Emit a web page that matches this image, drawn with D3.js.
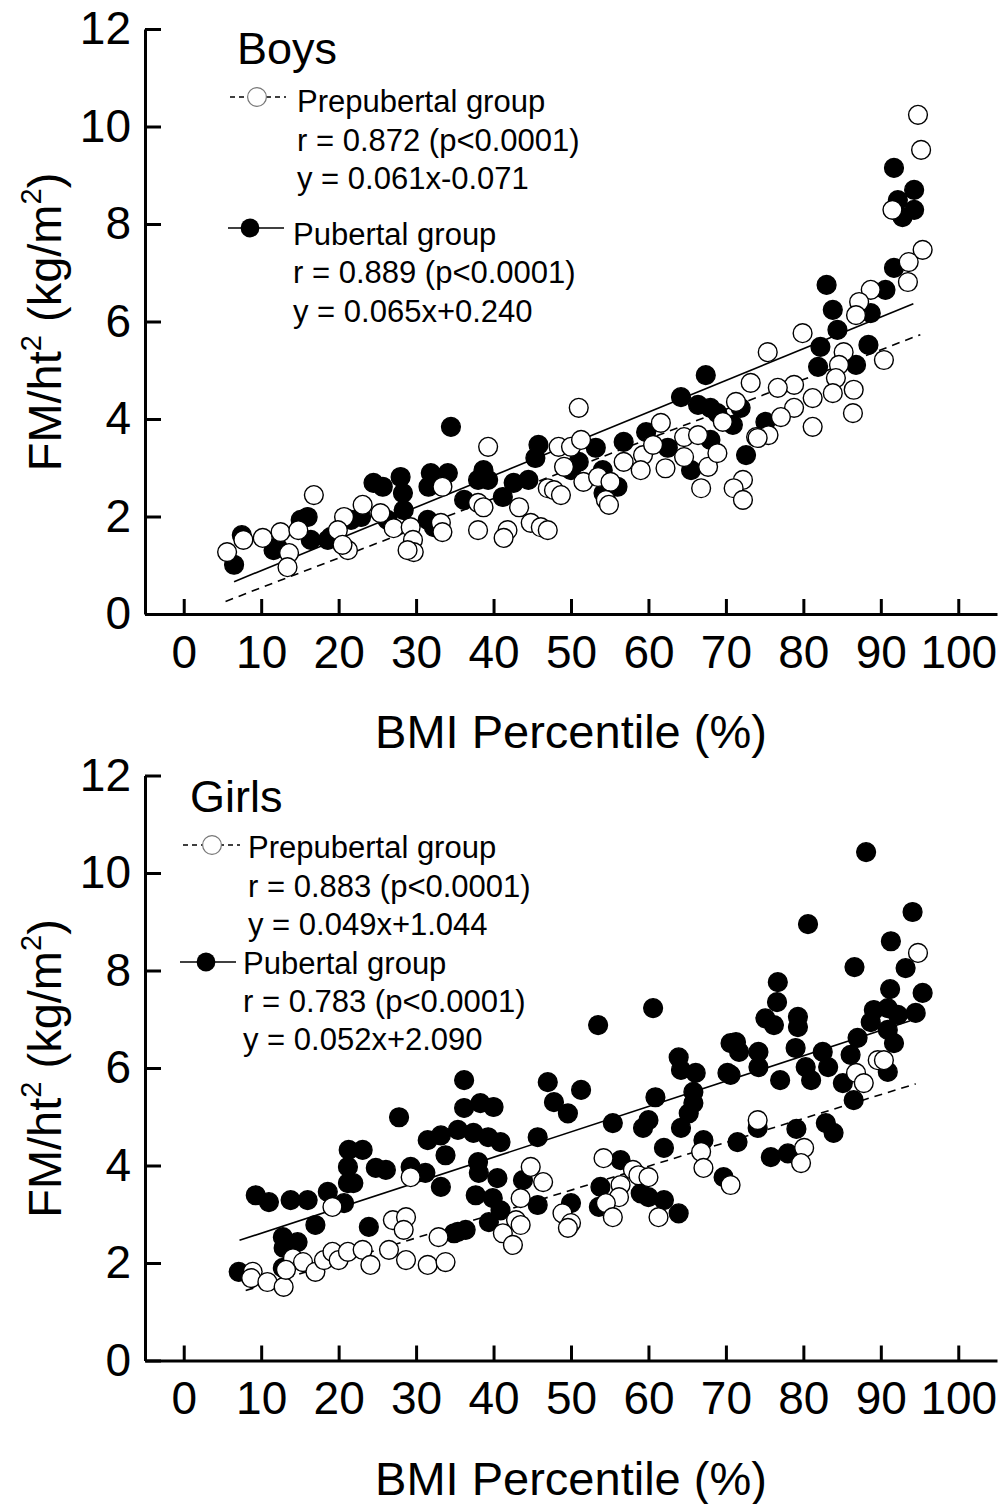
<!DOCTYPE html>
<html>
<head>
<meta charset="UTF-8">
<style>
  body { margin: 0; background: #fff; }
  svg text { font-family: "Liberation Sans", Arial, sans-serif; fill: #000; }
  .axis path, .axis line { stroke: #000; stroke-width: 3px; }
  .axis text { font-size: 46px; font-family: "Liberation Sans", Arial, sans-serif; }
</style>
</head>
<body>
<svg id="chart" width="1000" height="1504"></svg>
<script src="https://d3js.org/d3.v7.min.js"></script>
<script>

// ---- data ----
let xTicks = [0, 10, 20, 30, 40, 50, 60, 70, 80, 90, 100];
let yTicks = [0, 2, 4, 6, 8, 10, 12];

// Boys, prepubertal (open circles)
let boysPreX = [5.6,7.7,10.2,12.5,14.8,13.6,13.4,16.8,20.7,19.9,21.2,20.5,23.1,25.4,27.1,29.3,29.6,29.7,28.9,33.4,33.2,33.4,38.0,38.0,38.7,39.3,
  41.8,41.3,43.3,44.8,46.1,47.0,47.0,47.8,48.7,48.4,50.0,51.3,49.1,51.6,53.5,55.1,54.5,54.9,56.8,59.3,59.0,60.6,61.6,62.2,64.6,64.6,66.4,66.8,67.7,68.9,69.6,71.3,73.2,72.2,71.0,72.2,73.9,51.0,
  94.8,95.2,91.5,95.4,93.6,93.5,88.7,87.2,86.8,79.9,75.4,85.2,84.6,90.4,84.2,83.8,86.5,86.4,81.2,81.2,78.8,76.7,78.8,77.1,75.5,74.1];
let boysPreY = [1.27,1.52,1.56,1.68,1.72,1.25,0.96,2.44,1.99,1.72,1.31,1.42,2.24,2.07,1.76,1.78,1.52,1.27,1.31,2.61,1.87,1.68,1.72,2.28,2.19,3.43,
  1.72,1.56,2.19,1.87,1.78,1.72,2.58,2.54,2.44,3.43,3.43,3.57,3.02,2.71,2.81,2.71,2.34,2.24,3.12,3.26,2.95,3.47,3.92,2.99,3.63,3.22,3.67,2.58,3.02,3.30,3.94,4.35,4.74,2.75,2.58,2.34,3.63,4.23,
  10.24,9.52,8.29,7.47,7.22,6.81,6.65,6.40,6.13,5.76,5.37,5.37,5.11,5.21,4.84,4.53,4.60,4.12,4.43,3.84,4.70,4.64,4.23,4.04,3.67,3.61];

// Boys, pubertal (filled circles)
let boysPubX = [6.5,7.5,15.1,16.0,12.1,16.4,18.6,11.6,19.0,21.6,22.9,24.5,25.7,26.3,28.0,28.3,28.4,31.9,34.1,31.6,31.5,32.3,34.5,36.2,38.7,39.3,38.0,
  41.2,42.6,44.5,45.8,45.4,51.0,50.0,53.2,54.1,56.0,54.2,56.8,59.7,62.5,64.2,67.4,66.4,68.0,68.9,68.0,70.9,65.5,72.6,71.9,
  91.7,94.3,92.2,94.3,92.8,91.7,90.6,83.0,83.8,88.7,84.4,82.2,81.9,86.8,88.4,75.1];
let boysPubY = [1.01,1.62,1.93,1.99,1.37,1.52,1.52,1.31,1.58,1.93,1.99,2.69,2.61,1.93,2.81,2.48,2.13,2.89,2.89,2.61,1.93,1.78,3.84,2.34,2.95,2.75,2.75,
  2.40,2.69,2.75,3.47,3.20,3.12,2.95,3.41,2.95,2.61,2.48,3.53,3.73,3.41,4.45,4.90,4.29,4.23,4.12,3.57,3.88,2.95,3.26,4.23,
  9.15,8.70,8.49,8.29,8.14,7.10,6.65,6.75,6.24,6.17,5.83,5.48,5.07,5.11,5.52,3.94];

// Girls, prepubertal (open circles)
let girlsPreX = [8.9,8.7,10.8,12.9,14.1,15.4,13.2,17.0,18.1,19.2,20.0,21.2,23.1,24.1,26.5,28.7,31.5,33.8,32.9,27.0,28.7,28.4,29.3,19.2,
  44.8,46.4,43.5,42.9,43.5,41.2,42.5,54.2,58.0,58.7,60.0,56.4,56.2,54.5,55.4,48.9,50.0,49.6,61.3,66.8,67.1,
  94.8,89.6,90.4,86.8,87.8,74.1,80.1,79.7,70.6];
let girlsPreY = [1.82,1.69,1.61,1.51,2.10,2.02,1.86,1.82,2.06,2.23,2.06,2.23,2.27,1.96,2.27,2.06,1.96,2.02,2.53,2.88,2.94,2.68,3.76,3.15,
  3.97,3.66,3.33,2.88,2.78,2.61,2.37,4.15,3.91,3.80,3.76,3.60,3.35,3.23,2.94,3.02,2.82,2.72,2.94,4.28,3.95,
  8.36,6.16,6.16,5.90,5.69,4.93,4.36,4.05,3.60];

// Girls, pubertal (filled circles)
let girlsPubX = [7.1,9.3,11.0,13.8,16.0,18.6,20.7,21.2,21.2,21.3,23.1,21.9,24.8,26.1,17.0,12.8,14.7,12.9,12.8,23.9,27.8,29.3,31.5,33.2,33.8,31.2,33.2,35.4,36.2,36.2,35.4,36.4,
  38.3,40.0,37.4,39.3,40.9,38.0,38.1,40.5,37.7,39.9,40.9,39.4,34.9,43.8,45.7,45.7,47.0,47.8,49.6,51.3,53.5,60.6,50.0,53.8,53.6,55.4,56.4,59.3,60.0,60.9,62.0,59.0,60.0,62.0,63.9,
  63.9,64.2,66.1,65.8,65.8,65.2,64.2,67.1,70.6,70.2,69.7,88.1,80.6,94.1,91.3,86.6,93.2,95.4,94.5,91.2,89.1,90.9,92.2,88.7,90.9,91.7,87.0,86.1,90.9,86.5,85.1,
  76.7,76.6,75.1,76.2,79.3,79.3,71.3,71.7,74.2,74.2,70.6,77.0,79.0,80.3,81.0,82.5,83.2,71.5,74.1,79.1,82.9,83.9,75.8,78.0];
let girlsPubY = [1.82,3.39,3.25,3.29,3.29,3.46,3.23,3.64,3.97,4.32,4.32,3.64,3.95,3.91,2.78,2.53,2.43,2.31,1.90,2.74,4.99,3.97,4.52,4.62,4.21,3.85,3.56,4.73,5.75,5.18,2.64,2.68,
  5.28,5.20,4.67,4.58,4.48,4.07,3.85,3.74,3.39,3.33,3.08,2.84,2.61,3.70,3.19,4.58,5.71,5.30,5.07,5.55,6.88,7.23,3.23,3.56,3.15,4.87,4.11,4.77,4.93,5.40,4.36,3.43,3.35,3.29,3.02,
  6.22,5.96,5.90,5.51,5.28,5.07,4.77,4.52,6.51,5.90,3.76,10.43,8.95,9.20,8.60,8.07,8.05,7.54,7.13,7.62,7.19,7.23,7.09,6.94,6.78,6.51,6.62,6.27,5.92,5.34,5.69,
  7.76,7.35,7.02,6.88,7.05,6.84,6.53,6.33,6.33,6.02,5.86,5.75,6.41,6.02,5.75,6.33,6.02,4.48,4.77,4.75,4.87,4.67,4.17,4.25];

// regression lines: [slope, intercept, x start, x end]
let boysPreFit = [0.061, -0.071, 5.4, 95.1];
let boysPubFit = [0.065, 0.240, 6.5, 94.2];
let girlsPreFit = [0.049, 1.044, 8.0, 94.5];
let girlsPubFit = [0.052, 2.090, 7.2, 93.8];

let boysLegend = ["Prepubertal group", "r = 0.872 (p<0.0001)", "y = 0.061x-0.071",
                  "Pubertal group", "r = 0.889 (p<0.0001)", "y = 0.065x+0.240"];
let girlsLegend = ["Prepubertal group", "r = 0.883 (p<0.0001)", "y = 0.049x+1.044",
                   "Pubertal group", "r = 0.783 (p<0.0001)", "y = 0.052x+2.090"];

let svg = d3.select("#chart");
let rad = 9.4;

function drawPanel(p) {
  let g = svg.append("g");
  let x = d3.scaleLinear().domain([-5, 105]).range([145, 997]);
  let y = d3.scaleLinear().domain([0, 12]).range([p.y0, p.y0 - 585]);

  // fit lines, under the points
  [[p.preFit, "8,6"], [p.pubFit, null]].forEach(([f, dash]) => {
    g.append("line")
      .attr("x1", x(f[2])).attr("y1", y(f[0] * f[2] + f[1]))
      .attr("x2", x(f[3])).attr("y2", y(f[0] * f[3] + f[1]))
      .attr("stroke", "#000").attr("stroke-width", 1.6)
      .attr("stroke-dasharray", dash);
  });

  let pub = d3.zip(p.pubX, p.pubY);
  let pre = d3.zip(p.preX, p.preY);

  g.append("g").selectAll("circle").data(pub).enter().append("circle")
    .attr("cx", d => x(d[0])).attr("cy", d => y(d[1])).attr("r", rad)
    .attr("fill", "#000").attr("stroke", "#000").attr("stroke-width", 1.4);

  g.append("g").selectAll("circle").data(pre).enter().append("circle")
    .attr("cx", d => x(d[0])).attr("cy", d => y(d[1])).attr("r", rad)
    .attr("fill", "#fff").attr("stroke", "#000").attr("stroke-width", 1.4);

  // axes
  g.append("g").attr("class", "axis")
    .attr("transform", "translate(0," + p.y0 + ")")
    .call(d3.axisBottom(x).tickValues(xTicks).tickSizeInner(-15).tickSizeOuter(0).tickPadding(21));
  g.append("g").attr("class", "axis")
    .attr("transform", "translate(145,0)")
    .call(d3.axisLeft(y).tickValues(yTicks).tickSizeInner(-16).tickSizeOuter(0).tickPadding(14));
  g.selectAll(".axis .domain").attr("stroke-width", 3);

  // axis titles
  g.append("text")
    .attr("x", x(50)).attr("y", p.y0 + 134)
    .attr("text-anchor", "middle").attr("font-size", 47)
    .text("BMI Percentile (%)");

  let yt = g.append("text")
    .attr("transform", "translate(61," + (p.y0 - 292) + ") rotate(-90)")
    .attr("text-anchor", "middle").attr("font-size", 47);
  yt.append("tspan").text("FM/ht");
  yt.append("tspan").attr("font-size", 29).attr("dy", -20).text("2");
  yt.append("tspan").attr("dy", 20).text(" (kg/m");
  yt.append("tspan").attr("font-size", 29).attr("dy", -20).text("2");
  yt.append("tspan").attr("dy", 20).text(")");

  // legend
  let lg = g.append("g");
  lg.append("text").attr("x", p.titleX).attr("y", p.titleY)
    .attr("font-size", 45).text(p.title);

  let s = p.sym;
  lg.append("line").attr("x1", s[0]).attr("x2", s[1]).attr("y1", s[3]).attr("y2", s[3])
    .attr("stroke", "#000").attr("stroke-width", 1.4).attr("stroke-dasharray", "5,4");
  lg.append("circle").attr("cx", s[2]).attr("cy", s[3]).attr("r", rad)
    .attr("fill", "#fff").attr("stroke", "#777").attr("stroke-width", 1.2);
  lg.append("line").attr("x1", s[4]).attr("x2", s[5]).attr("y1", s[7]).attr("y2", s[7])
    .attr("stroke", "#000").attr("stroke-width", 1.6);
  lg.append("circle").attr("cx", s[6]).attr("cy", s[7]).attr("r", rad)
    .attr("fill", "#000");

  p.legend.forEach((t, i) => {
    lg.append("text")
      .attr("x", i < 3 ? p.preX0 : p.pubX0)
      .attr("y", p.lineY[i])
      .attr("font-size", 31)
      .text(t);
  });
}

drawPanel({
  y0: 614,
  preX: boysPreX, preY: boysPreY, pubX: boysPubX, pubY: boysPubY,
  preFit: boysPreFit, pubFit: boysPubFit,
  title: "Boys", titleX: 237, titleY: 64,
  legend: boysLegend, preX0: 297, pubX0: 293,
  lineY: [112, 151, 189, 245, 283, 322],
  sym: [230, 286, 257, 97, 228, 284, 250, 228]
});

drawPanel({
  y0: 1360.5,
  preX: girlsPreX, preY: girlsPreY, pubX: girlsPubX, pubY: girlsPubY,
  preFit: girlsPreFit, pubFit: girlsPubFit,
  title: "Girls", titleX: 190, titleY: 812,
  legend: girlsLegend, preX0: 248, pubX0: 243,
  lineY: [858, 897, 935, 974, 1012, 1050],
  sym: [183, 240, 212, 845, 180, 236, 206, 962]
});

</script>
</body>
</html>
